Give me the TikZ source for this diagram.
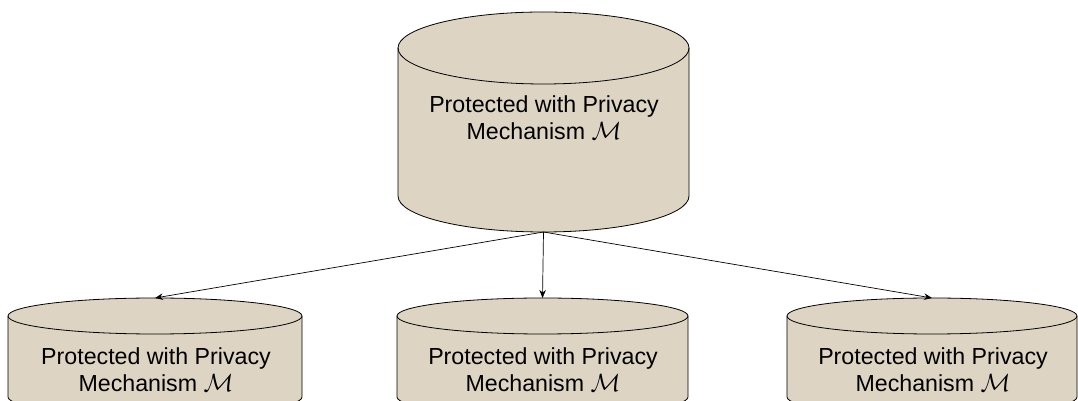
\documentclass[tikz,border=0pt]{standalone}
\usepackage{fontspec}
\setmainfont{Liberation Sans}
\usetikzlibrary{arrows.meta}
\definecolor{cylfill}{RGB}{221,212,196}
\tikzset{
  cylbody/.style={fill=cylfill,draw=none},
  cylline/.style={draw=black,line width=0.8pt},
  cyltext/.style={align=center,font=\fontsize{23.2}{27}\selectfont,inner sep=0pt},
  link/.style={draw=black,line width=0.7pt,-{Stealth[length=8pt,width=6.5pt]}}
}
% #1 name, #2 cx, #3 y of top ellipse centre, #4 y of bottom ellipse centre, #5 rx, #6 ry
\newcommand\drawcyl[6]{%
  \path[cylbody] (#2-#5,#3) -- (#2-#5,#4) arc[start angle=180,end angle=360,x radius=#5,y radius=#6]
     -- (#2+#5,#3) arc[start angle=0,end angle=180,x radius=#5,y radius=#6] -- cycle;
  \draw[cylline] (#2-#5,#3) -- (#2-#5,#4) arc[start angle=180,end angle=360,x radius=#5,y radius=#6]
     -- (#2+#5,#3);
  \draw[cylline] (#2,#3) ellipse[x radius=#5,y radius=#6];
  \coordinate (#1-top) at (#2,#3+#6);
  \coordinate (#1-bot) at (#2,#4-#6);
}
\begin{document}
\begin{tikzpicture}[x=1pt,y=1pt]
\useasboundingbox (0,0) rectangle (1078,401);
\clip (0,0) rectangle (1078,401);
\drawcyl{main}{543.5}{353}{205}{145.5}{36}
\drawcyl{left}{155}{85}{4}{147}{18}
\drawcyl{mid}{542.5}{85}{4}{145.5}{18}
\drawcyl{right}{932}{85}{4}{145}{18}
\node[cyltext] (maint) at (544,283) {Protected with Privacy\\Mechanism $\mathcal{M}$};
\node[cyltext] (leftt) at (156,31) {Protected with Privacy\\Mechanism $\mathcal{M}$};
\node[cyltext] (midt) at (543,31) {Protected with Privacy\\Mechanism $\mathcal{M}$};
\node[cyltext] (rightt) at (933,31) {Protected with Privacy\\Mechanism $\mathcal{M}$};
\draw[link] (main-bot) -- (left-top);
\draw[link] (main-bot) -- (mid-top);
\draw[link] (main-bot) -- (right-top);
\end{tikzpicture}
\end{document}
